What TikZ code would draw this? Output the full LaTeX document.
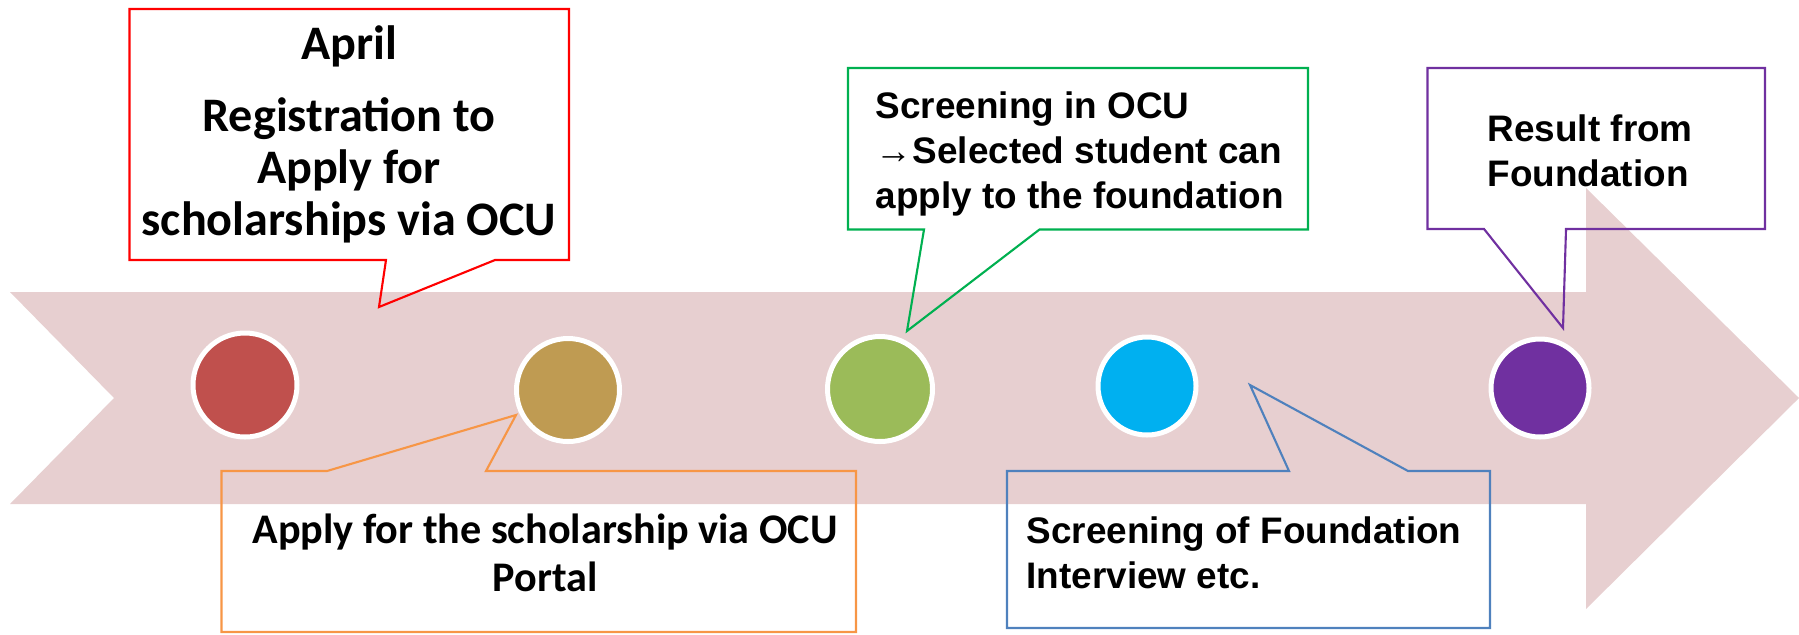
\documentclass[tikz,border=0pt]{standalone}
\usepackage{fontspec}
\setmainfont{Liberation Sans}
\newfontfamily\calibri{Carlito}

\definecolor{bandpink}{HTML}{E7CFD0}
\definecolor{stepred}{HTML}{C0504D}
\definecolor{stepgold}{HTML}{BF9B52}
\definecolor{stepgreen}{HTML}{9BBB59}
\definecolor{stepcyan}{HTML}{00B0F0}
\definecolor{steppurple}{HTML}{7030A0}
\definecolor{boxred}{HTML}{FF0000}
\definecolor{boxorange}{HTML}{F79646}
\definecolor{boxgreen}{HTML}{00B050}
\definecolor{boxblue}{HTML}{4F81BD}

\tikzset{
    dot/.style={circle, draw=white, line width=0.5mm, inner sep=0pt, minimum size=#1},
    callout/.style={line width=0.6pt, line join=miter},
    calitext/.style 2 args={font=\calibri\bfseries\fontsize{#1}{#2}\selectfont, align=center, inner sep=0pt},
    arialtext/.style={font=\bfseries\fontsize{10.5}{12.7}\selectfont, align=left, inner sep=0pt},
}

\begin{document}
\begin{tikzpicture}
    \useasboundingbox (0,0) rectangle (17.99,6.34);

    % Draw the big arrow behind everything
    \fill[bandpink] (0.10,3.42) -- (15.86,3.42) -- (15.86,4.46) -- (17.99,2.36) -- (15.86,0.25)
        -- (15.86,1.30) -- (0.10,1.30) -- (1.14,2.36) -- cycle;

    % Draw the five steps on the arrow
    \node[dot=1.04cm, fill=stepred] (s1) at (2.45,2.49) {};
    \node[dot=1.03cm, fill=stepgold] (s2) at (5.68,2.44) {};
    \node[dot=1.05cm, fill=stepgreen] (s3) at (8.80,2.45) {};
    \node[dot=0.98cm, fill=stepcyan] (s4) at (11.47,2.48) {};
    \node[dot=0.98cm, fill=steppurple] (s5) at (15.40,2.46) {};

    % Draw the callouts above the arrow
    \draw[callout, boxred] (1.295,6.25) -- (5.69,6.25) -- (5.69,3.74) -- (4.95,3.74) -- (3.79,3.27)
        -- (3.86,3.74) -- (1.295,3.74) -- cycle;
    \draw[callout, boxgreen] (8.48,5.66) -- (13.08,5.66) -- (13.08,4.045) -- (10.395,4.045) -- (9.07,3.03)
        -- (9.24,4.045) -- (8.48,4.045) -- cycle;
    \draw[callout, steppurple] (14.275,5.66) -- (17.65,5.66) -- (17.65,4.05) -- (15.66,4.05) -- (15.63,3.06)
        -- (14.84,4.05) -- (14.275,4.05) -- cycle;

    % Draw the callouts below the arrow
    \draw[callout, boxorange] (2.215,1.63) -- (3.27,1.63) -- (5.16,2.19) -- (4.86,1.63) -- (8.56,1.63)
        -- (8.56,0.02) -- (2.215,0.02) -- cycle;
    \draw[callout, boxblue] (10.07,1.63) -- (12.89,1.63) -- (12.50,2.49) -- (14.08,1.63) -- (14.90,1.63)
        -- (14.90,0.06) -- (10.07,0.06) -- cycle;

    % Add the texts of the callouts (anchored at the last line)
    \node[calitext={13.7}{14.8}, anchor=base] (t1) at (3.49,3.984)
        {April\\[5.8pt] Registration to\\ Apply for\\ scholarships via OCU};
    \node[calitext={12}{13.8}, anchor=base] (t2) at (5.45,0.425)
        {Apply for the scholarship via OCU\\ Portal};
    \node[arialtext, anchor=base west] (t3) at (8.75,4.26) {Screening in OCU\\ →Selected student can\\ apply to the foundation};
    \node[arialtext, anchor=base west] (t4) at (10.26,0.46) {Screening of Foundation\\ Interview etc.};
    \node[arialtext, anchor=base west] (t5) at (14.87,4.474) {Result from\\ Foundation};

\end{tikzpicture}
\end{document}
